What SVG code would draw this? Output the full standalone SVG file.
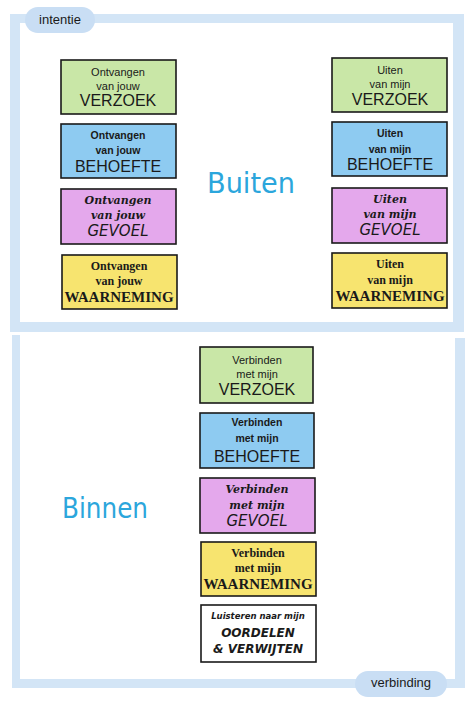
<svg xmlns="http://www.w3.org/2000/svg" width="474" height="704" viewBox="0 0 474 704">
<style>
.band{fill:#d3e5f6}
.pill{fill:#c9def4}
.box{stroke:#1a1a1a;stroke-width:1.6}
.g{fill:#c9e7a7}.b{fill:#8ecbf1}.p{fill:#e4a8ec}.y{fill:#f7e46f}.w{fill:#ffffff}
text{text-anchor:middle;fill:#1a1a1a}
.s1{font-family:"Liberation Sans",Arial,sans-serif;font-size:11px}
.l1{font-family:"Liberation Sans",Arial,sans-serif;font-size:16px}
.s2{font-family:"Liberation Sans",Arial,sans-serif;font-size:10.5px;font-weight:bold}
.l2{font-family:"Liberation Sans",Arial,sans-serif;font-size:16px}
.s3{font-family:"DejaVu Serif",serif;font-size:11px;font-style:italic;font-weight:bold}
.l3{font-family:"DejaVu Sans",sans-serif;font-size:15px;font-style:italic}
.s4{font-family:"Liberation Serif","Times New Roman",serif;font-size:12px;font-weight:bold}
.l4{font-family:"Liberation Serif","Times New Roman",serif;font-size:15px;font-weight:bold}
.s5{font-family:"DejaVu Sans",sans-serif;font-size:8.5px;font-style:italic;font-weight:bold}
.l5{font-family:"DejaVu Sans",sans-serif;font-size:12px;font-style:italic;font-weight:bold}
.big{font-family:"Comic Sans MS","DejaVu Sans",sans-serif;font-size:29px;fill:#2ba6dc}
.tag{font-family:"Liberation Sans",Arial,sans-serif;font-size:13px;fill:#1a1a1a}
</style>
<rect width="474" height="704" fill="#ffffff"/>
<g id="frame">
<rect class="band" x="10" y="14" width="454" height="9"/>
<rect class="band" x="10" y="14" width="10" height="318"/>
<rect class="band" x="453" y="14" width="11" height="318"/>
<rect class="band" x="12" y="322" width="452" height="10"/>
<rect class="band" x="12" y="335" width="8" height="353"/>
<rect class="band" x="455" y="338" width="10" height="350"/>
<rect class="band" x="12" y="679" width="453" height="9"/>
</g>
<g id="intentie">
<rect class="pill" x="25" y="7" width="70" height="26" rx="13"/>
<text class="tag" x="60" y="24">intentie</text>
</g>
<g id="verbinding">
<rect class="pill" x="355" y="671" width="92" height="26" rx="13"/>
<text class="tag" x="401" y="687">verbinding</text>
</g>
<g id="buiten"><text class="big" x="251" y="193" textLength="88" lengthAdjust="spacingAndGlyphs">Buiten</text></g>
<g id="binnen"><text class="big" x="105" y="518" textLength="86" lengthAdjust="spacingAndGlyphs">Binnen</text></g>

<g id="ontvangen-verzoek"><rect class="box g" x="61" y="60" width="115" height="54"/>
<text class="s1" x="118" y="76">Ontvangen</text><text class="s1" x="118" y="90">van jouw</text><text class="l1" x="118" y="106">VERZOEK</text></g>
<g id="ontvangen-behoefte"><rect class="box b" x="61" y="124" width="115" height="54"/>
<text class="s2" x="118" y="139">Ontvangen</text><text class="s2" x="118" y="154">van jouw</text><text class="l2" x="118" y="172">BEHOEFTE</text></g>
<g id="ontvangen-gevoel"><rect class="box p" x="61" y="189" width="115" height="55"/>
<text class="s3" x="118" y="204">Ontvangen</text><text class="s3" x="118" y="219">van jouw</text><text class="l3" x="118" y="236">GEVOEL</text></g>
<g id="ontvangen-waarneming"><rect class="box y" x="62" y="255" width="115" height="54"/>
<text class="s4" x="119" y="270">Ontvangen</text><text class="s4" x="119" y="285">van jouw</text><text class="l4" x="119" y="302">WAARNEMING</text></g>

<g id="uiten-verzoek"><rect class="box g" x="332" y="58" width="115" height="54"/>
<text class="s1" x="390" y="74">Uiten</text><text class="s1" x="390" y="88">van mijn</text><text class="l1" x="390" y="105">VERZOEK</text></g>
<g id="uiten-behoefte"><rect class="box b" x="332" y="122" width="115" height="54"/>
<text class="s2" x="390" y="137">Uiten</text><text class="s2" x="390" y="153">van mijn</text><text class="l2" x="390" y="170">BEHOEFTE</text></g>
<g id="uiten-gevoel"><rect class="box p" x="332" y="188" width="115" height="55"/>
<text class="s3" x="390" y="203">Uiten</text><text class="s3" x="390" y="218">van mijn</text><text class="l3" x="390" y="235">GEVOEL</text></g>
<g id="uiten-waarneming"><rect class="box y" x="332" y="253" width="115" height="55"/>
<text class="s4" x="390" y="268">Uiten</text><text class="s4" x="390" y="284">van mijn</text><text class="l4" x="390" y="301">WAARNEMING</text></g>

<g id="verbinden-verzoek"><rect class="box g" x="200" y="347" width="113" height="56"/>
<text class="s1" x="257" y="364">Verbinden</text><text class="s1" x="257" y="378">met mijn</text><text class="l1" x="257" y="395">VERZOEK</text></g>
<g id="verbinden-behoefte"><rect class="box b" x="200" y="413" width="114" height="55"/>
<text class="s2" x="257" y="426">Verbinden</text><text class="s2" x="257" y="442">met mijn</text><text class="l2" x="257" y="462">BEHOEFTE</text></g>
<g id="verbinden-gevoel"><rect class="box p" x="200" y="478" width="115" height="55"/>
<text class="s3" x="257" y="493">Verbinden</text><text class="s3" x="257" y="509">met mijn</text><text class="l3" x="257" y="526">GEVOEL</text></g>
<g id="verbinden-waarneming"><rect class="box y" x="201" y="542" width="115" height="54"/>
<text class="s4" x="258" y="557">Verbinden</text><text class="s4" x="258" y="572">met mijn</text><text class="l4" x="258" y="589">WAARNEMING</text></g>
<g id="luisteren"><rect class="box w" x="201" y="605" width="115" height="57"/>
<text class="s5" x="258" y="619">Luisteren naar mijn</text><text class="l5" x="258" y="637">OORDELEN</text><text class="l5" x="258" y="653">&amp; VERWIJTEN</text></g>
</svg>
